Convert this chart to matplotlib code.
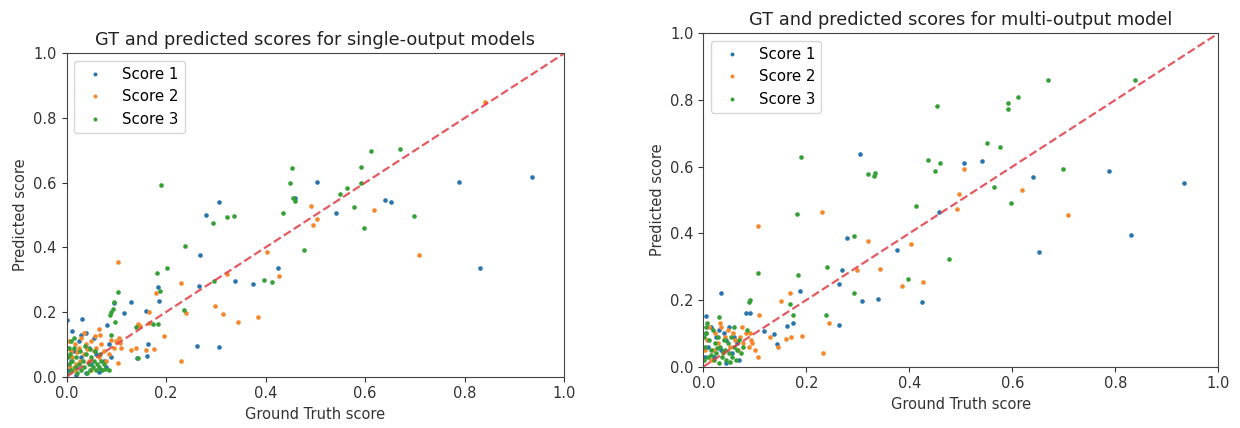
import matplotlib
matplotlib.use("Agg")
import matplotlib.pyplot as plt

# ---------------- Left panel: single-output models ----------------
L1_x = [0.005, 0.01, 0.015, 0.02, 0.025, 0.03, 0.04, 0.045, 0.05, 0.055, 0.06, 0.07, 0.075, 0.08, 0.085, 0.012, 0.03, 0.065, 0.02, 0.09,
        0.002, 0.032, 0.04, 0.081, 0.095, 0.116, 0.13, 0.142, 0.162, 0.164, 0.16, 0.184, 0.186, 0.263, 0.266, 0.269, 0.28, 0.307, 0.307,
        0.339, 0.375, 0.424, 0.46, 0.504, 0.541, 0.639, 0.652, 0.789, 0.83, 0.935]
L1_y = [0.02, 0.05, 0.08, 0.03, 0.11, 0.06, 0.01, 0.09, 0.04, 0.12, 0.07, 0.02, 0.05, 0.03, 0.10, 0.14, 0.13, 0.015, 0.005, 0.06,
        0.175, 0.179, 0.134, 0.16, 0.228, 0.198, 0.23, 0.057, 0.064, 0.10, 0.202, 0.276, 0.234, 0.096, 0.282, 0.377, 0.50, 0.539, 0.091,
        0.295, 0.286, 0.335, 0.553, 0.602, 0.505, 0.546, 0.541, 0.602, 0.335, 0.617]

L2_x = [0.005, 0.01, 0.012, 0.018, 0.02, 0.025, 0.03, 0.035, 0.04, 0.045, 0.05, 0.055, 0.06, 0.065, 0.07, 0.075, 0.085, 0.095, 0.10,
        0.105, 0.008, 0.015, 0.028, 0.05, 0.068, 0.035, 0.09, 0.08, 0.022, 0.042, 0.058, 0.003,
        0.104, 0.23, 0.24, 0.298, 0.315, 0.345, 0.385, 0.23, 0.403, 0.427, 0.323, 0.492, 0.496, 0.504, 0.618, 0.708, 0.84,
        0.166, 0.143, 0.147, 0.166, 0.18, 0.195, 0.108, 0.11, 0.14, 0.104, 0.13, 0.16, 0.175, 0.066]
L2_y = [0.11, 0.08, 0.06, 0.10, 0.04, 0.09, 0.12, 0.07, 0.10, 0.05, 0.11, 0.08, 0.09, 0.06, 0.10, 0.08, 0.07, 0.09, 0.11,
        0.12, 0.03, 0.02, 0.05, 0.02, 0.13, 0.135, 0.115, 0.05, 0.075, 0.085, 0.125, 0.09,
        0.354, 0.29, 0.198, 0.218, 0.194, 0.169, 0.184, 0.05, 0.387, 0.311, 0.318, 0.529, 0.469, 0.487, 0.514, 0.376, 0.848,
        0.20, 0.164, 0.158, 0.166, 0.26, 0.125, 0.105, 0.088, 0.088, 0.043, 0.084, 0.084, 0.086, 0.147]

L3_x = [0.002, 0.005, 0.008, 0.01, 0.012, 0.015, 0.018, 0.02, 0.022, 0.025, 0.028, 0.03, 0.033, 0.036, 0.04, 0.042, 0.045, 0.048,
        0.05, 0.053, 0.056, 0.06, 0.062, 0.065, 0.07, 0.072, 0.075, 0.078, 0.003, 0.006, 0.01, 0.016, 0.058, 0.068, 0.085, 0.038, 0.047,
        0.19, 0.239, 0.295, 0.323, 0.336, 0.296, 0.236, 0.202, 0.182, 0.187, 0.103, 0.095, 0.093, 0.09, 0.088, 0.098, 0.089, 0.174,
        0.184, 0.143, 0.139, 0.453, 0.448, 0.456, 0.459, 0.435, 0.478, 0.397, 0.412, 0.549, 0.564, 0.577, 0.591, 0.591, 0.597, 0.612,
        0.669, 0.698]
L3_y = [0.01, 0.04, 0.07, 0.02, 0.05, 0.09, 0.03, 0.06, 0.01, 0.04, 0.08, 0.02, 0.05, 0.03, 0.07, 0.01, 0.04, 0.02,
        0.06, 0.03, 0.05, 0.02, 0.04, 0.03, 0.05, 0.02, 0.04, 0.025, 0.06, 0.09, 0.11, 0.12, 0.08, 0.07, 0.02, 0.095, 0.085,
        0.593, 0.405, 0.474, 0.493, 0.498, 0.295, 0.206, 0.336, 0.322, 0.264, 0.262, 0.23, 0.21, 0.20, 0.19, 0.17, 0.13, 0.163,
        0.163, 0.059, 0.155, 0.644, 0.598, 0.552, 0.543, 0.505, 0.391, 0.299, 0.294, 0.565, 0.584, 0.524, 0.647, 0.598, 0.459, 0.699,
        0.704, 0.496]

# ---------------- Right panel: multi-output model ----------------
R1_x = [0.005, 0.01, 0.015, 0.02, 0.025, 0.03, 0.035, 0.04, 0.045, 0.05, 0.055, 0.06, 0.065, 0.07, 0.004, 0.045,
        0.005, 0.035, 0.305, 0.279, 0.264, 0.264, 0.27, 0.309, 0.339, 0.377, 0.425, 0.458, 0.506, 0.542, 0.64, 0.651, 0.788, 0.831,
        0.933, 0.188, 0.175, 0.082, 0.09, 0.118, 0.137, 0.163, 0.143]
R1_y = [0.10, 0.06, 0.12, 0.03, 0.09, 0.11, 0.05, 0.10, 0.08, 0.12, 0.04, 0.09, 0.07, 0.02, 0.03, 0.01,
        0.152, 0.221, 0.638, 0.386, 0.124, 0.249, 0.289, 0.197, 0.202, 0.35, 0.193, 0.464, 0.612, 0.617, 0.57, 0.345, 0.588, 0.396,
        0.551, 0.228, 0.13, 0.162, 0.16, 0.108, 0.098, 0.122, 0.068]

R2_x = [0.008, 0.012, 0.018, 0.022, 0.028, 0.032, 0.038, 0.042, 0.048, 0.052, 0.058, 0.062, 0.068, 0.072, 0.078, 0.082, 0.088,
        0.092, 0.003, 0.015, 0.035, 0.075,
        0.107, 0.23, 0.232, 0.32, 0.344, 0.298, 0.386, 0.404, 0.427, 0.493, 0.496, 0.506, 0.618, 0.708, 0.244, 0.168, 0.151, 0.108,
        0.107, 0.129, 0.16, 0.146, 0.192, 0.17, 0.095, 0.10, 0.09]
R2_y = [0.08, 0.12, 0.05, 0.10, 0.07, 0.13, 0.04, 0.09, 0.11, 0.06, 0.10, 0.08, 0.05, 0.09, 0.07, 0.10, 0.06,
        0.08, 0.05, 0.02, 0.12, 0.12,
        0.423, 0.464, 0.042, 0.377, 0.294, 0.29, 0.243, 0.367, 0.253, 0.473, 0.519, 0.592, 0.529, 0.454, 0.13, 0.221, 0.198, 0.155,
        0.03, 0.088, 0.083, 0.058, 0.092, 0.09, 0.07, 0.05, 0.10]

R3_x = [0.002, 0.004, 0.006, 0.008, 0.01, 0.012, 0.015, 0.018, 0.02, 0.022, 0.025, 0.028, 0.03, 0.033, 0.036, 0.04, 0.042, 0.045,
        0.048, 0.05, 0.053, 0.056, 0.06, 0.063, 0.066, 0.07, 0.074, 0.078, 0.03, 0.001, 0.005, 0.014, 0.026, 0.038, 0.052,
        0.189, 0.182, 0.107, 0.183, 0.24, 0.238, 0.293, 0.293, 0.32, 0.333, 0.331, 0.398, 0.413, 0.478, 0.437, 0.449, 0.46, 0.454,
        0.55, 0.577, 0.565, 0.598, 0.591, 0.591, 0.612, 0.669, 0.698, 0.839, 0.091, 0.088, 0.175, 0.168, 0.06, 0.085]
R3_y = [0.02, 0.06, 0.10, 0.13, 0.03, 0.08, 0.05, 0.11, 0.02, 0.07, 0.04, 0.09, 0.01, 0.06, 0.03, 0.08, 0.05, 0.02,
        0.07, 0.04, 0.09, 0.03, 0.06, 0.02, 0.05, 0.08, 0.04, 0.06, 0.15, 0.09, 0.12, 0.035, 0.055, 0.045, 0.015,
        0.628, 0.459, 0.28, 0.275, 0.299, 0.156, 0.221, 0.391, 0.578, 0.582, 0.573, 0.262, 0.483, 0.322, 0.621, 0.588, 0.612, 0.781,
        0.671, 0.658, 0.538, 0.492, 0.791, 0.772, 0.809, 0.859, 0.592, 0.859, 0.20, 0.195, 0.156, 0.188, 0.12, 0.11]

series_labels = ["Score 1", "Score 2", "Score 3"]
titles = ["GT and predicted scores for single-output models",
          "GT and predicted scores for multi-output model"]
ticks = [0.0, 0.2, 0.4, 0.6, 0.8, 1.0]

fig = plt.figure(figsize=(12.4, 4.28), dpi=100)
axL = fig.add_axes([66.5 / 1240, 1 - 376.7 / 428, (564.3 - 66.5) / 1240, (376.7 - 53.3) / 428])
axR = fig.add_axes([703.3 / 1240, 1 - 366.7 / 428, (1218.3 - 703.3) / 1240, (366.7 - 33.3) / 428])

panels = [
    (axL, [(L1_x, L1_y), (L2_x, L2_y), (L3_x, L3_y)], titles[0]),
    (axR, [(R1_x, R1_y), (R2_x, R2_y), (R3_x, R3_y)], titles[1]),
]
colors = ["#2a74ad", "#f5872a", "#35a035"]

for ax, data, title in panels:
    for (xs, ys), lab, c in zip(data, series_labels, colors):
        ax.plot(xs, ys, ".", color=c, label=lab, markersize=4.6)
    ax.plot([0, 1], [0, 1], "--", color="#e03c46", alpha=0.85, linewidth=1.6)
    ax.set_xlim(0, 1)
    ax.set_ylim(0, 1)
    ax.set_xticks(ticks)
    ax.set_yticks(ticks)
    ax.tick_params(labelsize=10.5, colors="#333333")
    ax.set_title(title, fontsize=12.8, color="#222222")
    ax.set_xlabel("Ground Truth score", fontsize=10.5, color="#333333")
    ax.set_ylabel("Predicted score", fontsize=10.5, color="#333333")
    for sp in ax.spines.values():
        sp.set_color("#444444")
    ax.legend(loc="upper left", fontsize=10.8, markerscale=0.8)

fig.savefig("out.png", dpi=100)
